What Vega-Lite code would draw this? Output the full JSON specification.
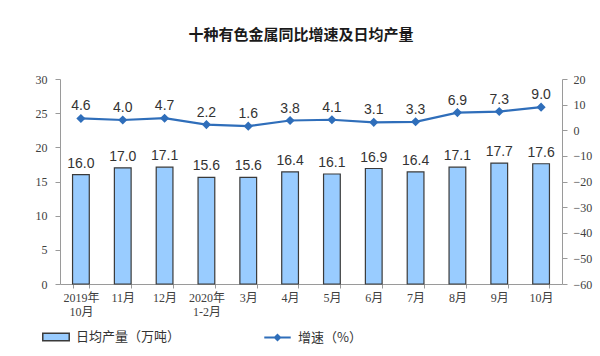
{
  "$schema": "https://vega.github.io/schema/vega-lite/v6.json",
  "width": 502,
  "height": 205,
  "autosize": {"type": "none"},
  "padding": {"left": 60, "top": 79, "right": 38, "bottom": 72},
  "background": "white",
  "title": {
    "text": "十种有色金属同比增速及日均产量",
    "font": "Noto Sans CJK SC",
    "fontSize": 15,
    "fontWeight": "bold",
    "color": "#1a1a1a",
    "anchor": "middle",
    "offset": 30,
    "dx": -10
  },
  "config": {
    "view": {"stroke": null},
    "axis": {
      "domainColor": "#9a9a9a",
      "tickColor": "#9a9a9a",
      "labelColor": "#404040",
      "labelFont": "Liberation Serif, Noto Sans CJK SC",
      "labelFontSize": 12,
      "grid": false,
      "title": null
    }
  },
  "data": {
    "values": [
      {"m": "2019年|10月", "prod": 16.0, "growth": 4.6},
      {"m": "11月", "prod": 17.0, "growth": 4.0},
      {"m": "12月", "prod": 17.1, "growth": 4.7},
      {"m": "2020年|1-2月", "prod": 15.6, "growth": 2.2},
      {"m": "3月", "prod": 15.6, "growth": 1.6},
      {"m": "4月", "prod": 16.4, "growth": 3.8},
      {"m": "5月", "prod": 16.1, "growth": 4.1},
      {"m": "6月", "prod": 16.9, "growth": 3.1},
      {"m": "7月", "prod": 16.4, "growth": 3.3},
      {"m": "8月", "prod": 17.1, "growth": 6.9},
      {"m": "9月", "prod": 17.7, "growth": 7.3},
      {"m": "10月", "prod": 17.6, "growth": 9.0}
    ]
  },
  "encoding": {
    "x": {
      "field": "m",
      "type": "nominal",
      "sort": null,
      "scale": {"paddingInner": 0.6, "paddingOuter": 0.3},
      "axis": {
        "labelAngle": 0,
        "labelExpr": "datum.value ? split(datum.value, '|') : ''",
        "tickBand": "extent",
        "tickSize": 4,
        "labelPadding": 4,
        "labelFontSize": 12,
        "labelLineHeight": 14
      }
    }
  },
  "layer": [
    {
      "mark": {"type": "bar", "stroke": "#3a3a3a", "strokeWidth": 1.2},
      "encoding": {
        "y": {
          "field": "prod",
          "type": "quantitative",
          "scale": {"domain": [0, 30]},
          "axis": {"orient": "left", "values": [0, 5, 10, 15, 20, 25, 30], "tickSize": 5, "labelPadding": 8}
        },
        "fill": {
          "datum": "日均产量（万吨）",
          "type": "nominal",
          "scale": {"range": ["#99CCFF"]},
          "legend": {
            "title": null,
            "orient": "none",
            "legendX": -18,
            "legendY": 244,
            "symbolType": "M-1,-0.28H1V0.28H-1Z",
            "symbolSize": 700,
            "symbolStrokeColor": "#3a3a3a",
            "symbolStrokeWidth": 1.5,
            "labelFont": "Noto Sans CJK SC",
            "labelFontSize": 13,
            "labelColor": "#333333",
            "labelOffset": 6
          }
        }
      }
    },
    {
      "mark": {"type": "text", "dy": -11, "font": "Liberation Sans", "fontSize": 14, "color": "#333333"},
      "encoding": {
        "y": {"field": "prod", "type": "quantitative", "scale": {"domain": [0, 30]}, "axis": null},
        "text": {"field": "prod", "type": "quantitative", "format": ".1f"}
      }
    },
    {
      "mark": {"type": "line", "strokeWidth": 2.2, "point": {"shape": "diamond", "size": 40, "filled": true, "color": "#2F6EBA"}},
      "encoding": {
        "y": {
          "field": "growth",
          "type": "quantitative",
          "scale": {"domain": [-60, 20]},
          "axis": {"orient": "right", "values": [-60, -50, -40, -30, -20, -10, 0, 10, 20], "tickSize": 5, "labelPadding": 6}
        },
        "stroke": {
          "datum": "增速（%）",
          "type": "nominal",
          "scale": {"range": ["#2F6EBA"]},
          "legend": {
            "title": null,
            "orient": "none",
            "legendX": 203,
            "legendY": 244,
            "symbolType": "M-1,0H1M0,-0.2L0.2,0L0,0.2L-0.2,0Z",
            "symbolSize": 700,
            "symbolStrokeWidth": 2,
            "symbolFillColor": "#2F6EBA",
            "labelFont": "Noto Sans CJK SC",
            "labelFontSize": 13,
            "labelColor": "#333333",
            "labelOffset": 6
          }
        }
      }
    },
    {
      "mark": {"type": "text", "dy": -12, "font": "Liberation Sans", "fontSize": 14, "color": "#333333"},
      "encoding": {
        "y": {"field": "growth", "type": "quantitative", "scale": {"domain": [-60, 20]}, "axis": null},
        "text": {"field": "growth", "type": "quantitative", "format": ".1f"}
      }
    }
  ],
  "resolve": {"scale": {"y": "independent"}}
}
